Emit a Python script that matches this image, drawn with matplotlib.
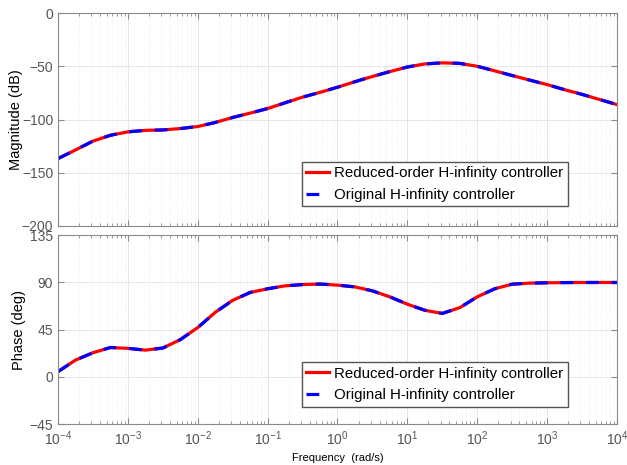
import numpy as np
import matplotlib
matplotlib.use("Agg")
import matplotlib.pyplot as plt
from matplotlib.ticker import LogLocator, NullFormatter

plt.rcParams['font.family'] = ['Liberation Sans', 'DejaVu Sans']
plt.rcParams['mathtext.fontset'] = 'custom'
plt.rcParams['mathtext.rm'] = 'Liberation Sans'
plt.rcParams['mathtext.it'] = 'Liberation Sans:italic'

# frequency exponents (log10 rad/s), quarter-decade steps
log_w = [-4, -3.75, -3.5, -3.25, -3, -2.75, -2.5, -2.25, -2, -1.75, -1.5, -1.25,
         -1, -0.75, -0.5, -0.25, 0, 0.25, 0.5, 0.75, 1, 1.25, 1.5, 1.75,
         2, 2.25, 2.5, 2.75, 3, 3.25, 3.5, 3.75, 4]

mag_db = [-136.7, -128.6, -120.3, -114.8, -111.6, -110.2, -109.8, -108.5, -106.6, -102.8, -98.1, -94,
          -89.7, -84.3, -79, -74.5, -69.7, -64.5, -59.6, -55, -50.7, -47.8, -46.8, -47.3,
          -50, -54.3, -58.7, -63, -67.2, -72, -76.4, -81.2, -86]

phase_deg = [5, 16, 23, 28, 27.2, 25.5, 27.5, 35.5, 47, 61.5, 73, 80.5,
             84, 86.8, 88, 88.5, 87.5, 85.8, 82, 76.3, 69.3, 63.5, 60.5, 66,
             76.3, 84, 88.4, 89.4, 89.7, 89.9, 90, 90, 90]

labels = ['Reduced-order H-infinity controller', 'Original H-infinity controller']

w = 10.0 ** np.array(log_w)

fig = plt.figure(figsize=(6.27, 4.65), dpi=100)
ax1 = fig.add_axes([0.0925, 0.514, 0.8915, 0.458])
ax2 = fig.add_axes([0.0925, 0.088, 0.8915, 0.406])

tick_col = '#555555'
for ax, y, ylab, yt, lx in [(ax1, mag_db, 'Magnitude (dB)', [-200, -150, -100, -50, 0], -0.063),
                            (ax2, phase_deg, 'Phase (deg)', [-45, 0, 45, 90, 135], -0.057)]:
    ax.plot(w, y, color='#ff0000', lw=2.3, label=labels[0])
    l2, = ax.plot(w, y, color='#0000ff', lw=2.3, ls='--', label=labels[1])
    l2.set_dashes([4, 4])
    ax.set_xscale('log')
    ax.set_xlim(1e-4, 1e4)
    ax.set_ylim(yt[0], yt[-1])
    ax.set_yticks(yt)
    ax.set_xticks([10.0 ** k for k in range(-4, 5)])
    ax.xaxis.set_minor_locator(LogLocator(base=10, subs=np.arange(2, 10), numticks=100))
    ax.xaxis.set_minor_formatter(NullFormatter())
    ax.grid(True, which='major', color='#e6e6e6', lw=0.7)
    ax.grid(True, which='minor', color='#ececec', lw=0.6, ls=':')
    ax.set_axisbelow(True)
    ax.tick_params(which='both', direction='in', top=True, right=True, colors='#8a8a8a',
                   labelcolor=tick_col, labelsize=10)
    ax.tick_params(which='major', length=4)
    ax.tick_params(which='minor', length=2)
    for s in ax.spines.values():
        s.set_color('#8a8a8a')
    ax.set_ylabel(ylab, fontsize=10.5)
    ax.yaxis.set_label_coords(lx, 0.5)
    ax.legend(loc='lower left', bbox_to_anchor=(0.4365, 0.092), borderaxespad=0,
              fontsize=10.8, handlelength=1.5, handletextpad=0.35, borderpad=0.3,
              fancybox=False, edgecolor='#555555', framealpha=1)

ax1.tick_params(labelbottom=False)
ax2.set_xlabel('Frequency  (rad/s)', fontsize=8)

fig.savefig('out.png', dpi=100)
